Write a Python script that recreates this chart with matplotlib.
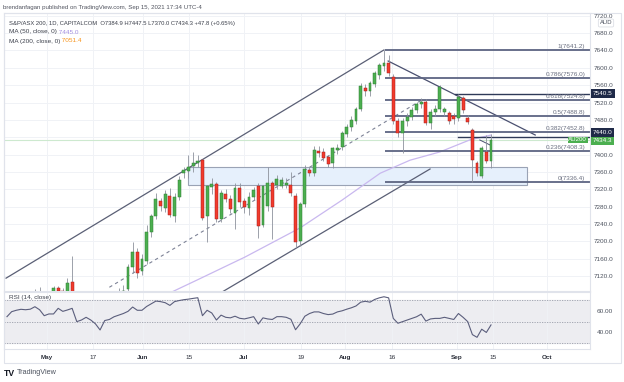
import numpy as np
import matplotlib.pyplot as plt
from matplotlib.patches import Rectangle

plt.rcParams['font.family'] = ['Liberation Sans', 'DejaVu Sans']

W, H = 624, 382

# ---- daily candles, bar 0 = 3 May 2021 ----
bar_idx = list(range(-8, 97))
opens = [7020, 7040, 7055, 7048, 7062, 7050, 7072, 7083, 7030, 7045,
         7072, 7092, 7085, 7078, 7106, 7052, 7000, 6960, 7014, 7035,
         7078, 7027, 7031, 7030, 7024, 7064,
         7090, 7140, 7175, 7132, 7155, 7221, 7258, 7293, 7277, 7304,
         7258, 7302, 7358, 7362, 7374, 7380, 7387, 7258, 7325, 7332,
         7251, 7309, 7298, 7265, 7323, 7293, 7277, 7302, 7327, 7238,
         7282, 7334, 7330, 7328, 7330, 7330, 7304, 7200, 7286, 7364,
         7358, 7408, 7406, 7394, 7380, 7411, 7418, 7448, 7464, 7478,
         7505, 7554, 7547, 7563, 7583, 7604, 7611, 7579, 7477, 7450,
         7477, 7487, 7503, 7517, 7521, 7472, 7498, 7505, 7498, 7496,
         7488, 7484, 7530, 7484, 7457, 7381, 7350, 7406, 7384.9]
highs = [7048, 7062, 7070, 7068, 7075, 7080, 7090, 7095, 7055, 7078,
         7096, 7098, 7093, 7115, 7166, 7060, 7030, 7020, 7045, 7082,
         7080, 7045, 7050, 7040, 7092, 7100,
         7148, 7198, 7185, 7170, 7238, 7262, 7311, 7300, 7318, 7322,
         7312, 7350, 7372, 7399, 7406, 7399, 7390, 7330, 7345, 7336,
         7318, 7320, 7306, 7334, 7335, 7300, 7314, 7325, 7335, 7330,
         7371, 7340, 7352, 7348, 7345, 7360, 7312, 7290, 7376, 7372,
         7420, 7420, 7415, 7400, 7418, 7425, 7455, 7470, 7488, 7510,
         7566, 7562, 7570, 7592, 7612, 7641.2, 7630, 7586, 7485, 7485,
         7495, 7510, 7522, 7530, 7528, 7505, 7515, 7560, 7510, 7500,
         7495, 7540, 7536, 7492, 7462, 7385, 7420, 7445, 7447.5]
lows = [7010, 7030, 7040, 7035, 7045, 7042, 7060, 7020, 7015, 7040,
        7065, 7070, 7060, 7072, 7045, 6990, 6935, 6955, 7000, 7030,
        7020, 7012, 7010, 7000, 7020, 7050,
        7085, 7127, 7115, 7122, 7148, 7210, 7252, 7270, 7268, 7255,
        7245, 7295, 7346, 7346, 7360, 7372, 7248, 7198, 7310, 7244,
        7244, 7290, 7265, 7228, 7280, 7265, 7261, 7295, 7208, 7232,
        7270, 7205, 7320, 7322, 7322, 7305, 7185, 7190, 7280, 7350,
        7350, 7395, 7385, 7372, 7370, 7402, 7410, 7440, 7455, 7470,
        7500, 7535, 7535, 7555, 7575, 7592, 7580, 7470, 7440, 7404,
        7465, 7480, 7495, 7508, 7468, 7460, 7488, 7498, 7490, 7470,
        7470, 7478, 7495, 7470, 7336.4, 7350, 7345, 7380, 7370.0]
closes = [7040, 7055, 7048, 7062, 7050, 7072, 7083, 7030, 7045, 7072,
          7092, 7085, 7078, 7104, 7052, 7000, 6960, 7014, 7035, 7078,
          7027, 7031, 7030, 7024, 7064, 7085,
          7140, 7175, 7127, 7160, 7221, 7258, 7297, 7281, 7309, 7261,
          7302, 7342, 7365, 7372, 7381, 7386, 7254, 7327, 7332, 7251,
          7311, 7298, 7274, 7323, 7291, 7279, 7302, 7318, 7235, 7327,
          7334, 7279, 7344, 7341, 7334, 7311, 7198, 7286, 7367, 7358,
          7411, 7404, 7392, 7378, 7414, 7416, 7450, 7464, 7480, 7505,
          7558, 7547, 7565, 7588, 7606, 7612, 7588, 7477, 7450, 7477,
          7487, 7503, 7517, 7521, 7473, 7498, 7505, 7556, 7505, 7477,
          7482, 7533, 7503, 7475, 7387, 7358, 7415, 7386, 7434.3]

rsi_vals = [54.6, 59.2, 60.5, 61.4, 61.0, 61.5, 63.8, 61.0, 55.5, 57.1,
            57.1, 62.3, 59.5, 60.8, 62.3, 50.0, 51.5, 54.0, 51.5, 48.0,
            42.3, 51.0, 52.0, 54.5, 56.0, 57.5, 59.5, 63.5, 60.5, 60.5,
            64.0, 66.5, 69.0, 68.5, 67.5, 65.0, 68.5, 69.5, 70.3, 70.8,
            71.5, 72.1, 55.5, 60.5, 58.0, 51.5, 56.0, 54.0, 53.5, 55.0,
            53.1, 52.5, 53.5, 54.6, 47.8, 53.5, 52.5, 52.0, 54.6, 54.6,
            54.0, 52.2, 42.5, 48.0, 55.0, 57.5, 59.0, 59.0, 57.5, 56.5,
            57.0, 59.0, 60.0, 61.5, 62.8, 64.5, 68.0, 68.8, 68.0, 70.5,
            72.0, 73.0, 72.0, 53.0, 48.5, 50.0, 51.5, 53.0, 54.5, 56.9,
            50.5, 52.5, 53.0, 53.0, 54.0, 53.0, 52.0, 57.5, 54.0, 50.0,
            38.0, 35.5, 43.0, 40.0, 46.96]

# MA(50) read at a few bars
ma50_idx = [27, 32.9, 43.2, 55.0, 64.0, 72.2, 78.6, 85.0, 91.5, 96]
ma50_val = [7081, 7111, 7164, 7231, 7295, 7357, 7387, 7406, 7434, 7445]

# drawings (bar index, price)
channel_top = [(-8.2, 7115), (73.0, 7641.2)]
channel_mid = [(14.0, 7094), (81.0, 7525)]
channel_bot = [(36.0, 7069), (82.9, 7366.7)]
down_line = [(73.9, 7615.7), (105.5, 7445.1)]
small_seg = [(93.6, 7433.6), (95.8, 7422.0)]
zone_x = (31.0, 103.7)
zone_y = (7330, 7371)

fib_start = 73.2
fib_ratio = ['1', '0.786', '0.618', '0.5', '0.382', '0.236', '0']
fib_price = [7641.2, 7576.0, 7524.8, 7488.8, 7452.8, 7408.3, 7336.4]

hline_levels = [7540.5, 7440.0]
hline_start = [88.3, 88.9]
last_price = 7434.3

price_ticks = list(range(7120, 7721, 40))
date_pos = [0.6, 10.5, 21.2, 31.1, 42.9, 55.2, 64.6, 74.7, 88.7, 96.4, 108.0]
date_lab = ['May', '17', 'Jun', '15', 'Jul', '19', 'Aug', '16', 'Sep', '15', 'Oct']

GRID = '#f0f2f6'
BORDER = '#e0e3eb'
TXT = '#4c525e'
FIBC = '#5d6582'
NAVY = '#1f2a48'
GREEN = '#4caf50'
FS = 4.6


def fx(px):
    return px / W


def fy(py):
    return 1 - py / H


fig = plt.figure(figsize=(W / 100, H / 100), dpi=100)
fig.patch.set_facecolor('white')

ax = fig.add_axes([fx(4), fy(291), (590 - 4) / W, (291 - 13) / H])
rax = fig.add_axes([fx(4), fy(349), (590 - 4) / W, (349 - 292) / H])

xlim = (-8.64, 117.27)
ax.set_xlim(*xlim)
ax.set_ylim(7085.4, 7726.4)
rax.set_xlim(*xlim)
rax.set_ylim(24.7, 77.4)

for a in (ax, rax):
    for s in a.spines.values():
        s.set_color(BORDER)
        s.set_linewidth(0.8)
    a.set_xticks(date_pos)
    a.grid(axis='x', color=GRID, lw=0.7)
    a.set_axisbelow(True)

# price axis
ax.yaxis.tick_right()
ax.set_yticks(price_ticks)
ax.set_yticklabels(['' if p == 7440 else f'{p:.1f}' for p in price_ticks])
ax.tick_params(axis='y', length=0, pad=3, labelsize=FS, labelcolor=TXT)
ax.tick_params(axis='x', length=0, labelbottom=False)
ax.grid(axis='y', color=GRID, lw=0.7)

# zone rectangle
ax.add_patch(Rectangle((zone_x[0], zone_y[0]), zone_x[1] - zone_x[0], zone_y[1] - zone_y[0],
                       facecolor='#e6f0fc', edgecolor='#9aa3b5', lw=0.8, zorder=1.5))

# current price line
ax.axhline(last_price, color='#cde9cf', lw=0.8, zorder=1.2)

# MA 50
ax.plot(ma50_idx, ma50_val, color='#c9b8ef', lw=0.9, zorder=2)

# channel
ax.plot(*zip(*channel_top), color='#5a5f75', lw=0.9, zorder=2)
ax.plot(*zip(*channel_bot), color='#5a5f75', lw=0.9, zorder=2)
ax.plot(*zip(*channel_mid), color='#7d8296', lw=0.8, ls=(0, (3, 3)), zorder=2)
ax.plot(*zip(*down_line), color='#4a5070', lw=0.9, zorder=2)
ax.plot(*zip(*small_seg), color='#4a5070', lw=0.7, zorder=2)

# fib levels
for r, p in zip(fib_ratio, fib_price):
    ax.plot([fib_start, xlim[1]], [p, p], color=FIBC, lw=1.3, zorder=2.2,
            solid_capstyle='butt')
    ax.annotate(f'{r}({p:.1f})', xy=(0.992, p), xycoords=('axes fraction', 'data'),
                xytext=(0, 0.8), textcoords='offset points', ha='right', va='bottom',
                fontsize=FS, color='#6a6f80', zorder=5)

for lvl, st in zip(hline_levels, hline_start):
    ax.plot([st, xlim[1]], [lvl, lvl], color='#2f3a58', lw=1.0, zorder=2.3)

# candles
x = np.array(bar_idx, dtype=float)
o = np.array(opens)
hi = np.array(highs)
lo = np.array(lows)
c = np.array(closes)
up = c >= o
body_col = np.where(up, GREEN, '#f23b2c')
edge_col = np.where(up, '#2e7d32', '#a31d1d')
ax.vlines(x, lo, hi, color='#8d929c', lw=0.6, zorder=3)
ax.bar(x, np.maximum(np.abs(c - o), 1.8), width=0.62, bottom=np.minimum(o, c),
       color=body_col, edgecolor=edge_col, linewidth=0.35, zorder=4)

# axis labels boxes
box_kw = dict(fontsize=FS, color='white', ha='left', va='center', zorder=10,
              annotation_clip=False)
ax.annotate('7540.5', xy=(1, 7540.5), xycoords=('axes fraction', 'data'), xytext=(2.2, 0),
            textcoords='offset points',
            bbox=dict(boxstyle='square,pad=0.3', fc=NAVY, ec='none'), **box_kw)
ax.annotate('7440.0', xy=(1, 7440.0), xycoords=('axes fraction', 'data'), xytext=(2.2, 3.4),
            textcoords='offset points',
            bbox=dict(boxstyle='square,pad=0.25', fc=NAVY, ec='none'), **box_kw)
ax.annotate('7434.3', xy=(1, last_price), xycoords=('axes fraction', 'data'), xytext=(2.2, -0.8),
            textcoords='offset points',
            bbox=dict(boxstyle='square,pad=0.25', fc=GREEN, ec='none'), **box_kw)
ax.annotate('AU200', xy=(1, last_price), xycoords=('axes fraction', 'data'), xytext=(-2.0, -0.2),
            textcoords='offset points', ha='right', va='center', fontsize=FS - 0.2,
            color='white', zorder=10, annotation_clip=False,
            bbox=dict(boxstyle='square,pad=0.15', fc=GREEN, ec='none'))
fig.text(fx(606), fy(23), 'AUD', fontsize=FS - 0.4, color=TXT, ha='center', va='center',
         bbox=dict(boxstyle='round,pad=0.25', fc='white', ec='#d6d9e0', lw=0.5))

# RSI pane
rax.axhspan(30, 70, color='#ededf1', zorder=0)
for lvl in (70, 50, 30):
    rax.axhline(lvl, color='#9a9eaa', lw=0.6, ls=(0, (1.5, 1.5)), zorder=1)
rax.plot(bar_idx, rsi_vals, color='#5b5e7c', lw=0.8, zorder=3)
rax.yaxis.tick_right()
rax.set_yticks([60, 40])
rax.set_yticklabels(['60.00', '40.00'])
rax.tick_params(axis='y', length=0, pad=5, labelsize=FS, labelcolor=TXT)
rax.set_xticklabels(date_lab)
rax.tick_params(axis='x', length=0, pad=4.0, labelsize=FS, labelcolor='#2a2e39')
for lab in rax.get_xticklabels():
    if not lab.get_text().isdigit():
        lab.set_fontweight('bold')

# header texts
HDR = '#3b3f4a'
fig.text(fx(3), fy(7), 'brendanfagan published on TradingView.com, Sep 15, 2021 17:34 UTC-4',
         fontsize=4.45, color='#50535e', va='center')
fig.text(fx(9), fy(23),
         'S&P/ASX 200, 1D, CAPITALCOM  O7384.9 H7447.5 L7370.0 C7434.3 +47.8 (+0.65%)',
         fontsize=4.2, color=HDR, va='center')
t1 = fig.text(fx(9), fy(32), 'MA (50, close, 0)', fontsize=FS, color=HDR, va='center')
ax.annotate(' 7445.0', xy=(1, 0.5), xycoords=t1, va='center', fontsize=FS,
            color='#a48fe0', annotation_clip=False)
t2 = fig.text(fx(9), fy(41), 'MA (200, close, 0)', fontsize=FS, color=HDR, va='center')
ax.annotate(' 7051.4', xy=(1, 0.5), xycoords=t2, va='center', fontsize=FS,
            color='#f7931a', annotation_clip=False)
t3 = fig.text(fx(9), fy(298), 'RSI (14, close)', fontsize=FS, color=HDR, va='center')
ax.annotate(' 46.96', xy=(1, 0.5), xycoords=t3, va='center', fontsize=FS,
            color='#6b6e8c', annotation_clip=False)

# outer frame
fig.add_artist(Rectangle((fx(4), fy(363)), (621 - 4) / W, (363 - 13) / H,
                         transform=fig.transFigure, fill=False, ec=BORDER, lw=0.8))

# logo
fig.text(fx(4), fy(373), 'TV', fontsize=6.2, fontweight='bold', color='#131722', va='center')
fig.text(fx(17), fy(373), 'TradingView', fontsize=5.2, color='#4c525e', va='center')

fig.savefig('out.png', dpi=100)
